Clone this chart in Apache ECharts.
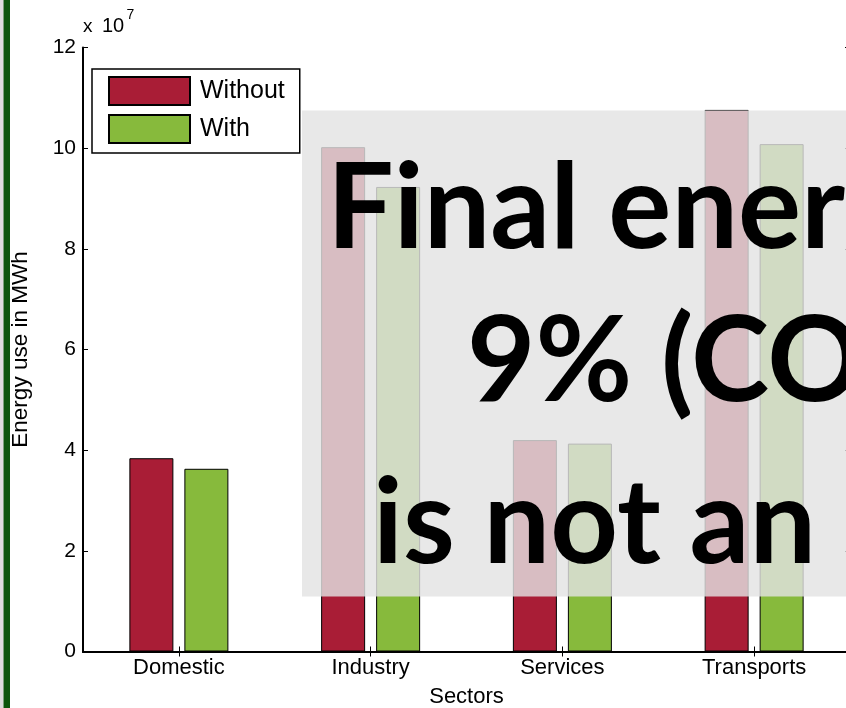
<!DOCTYPE html>
<html>
<head>
<meta charset="utf-8">
<script src="https://cdn.jsdelivr.net/npm/echarts@6/dist/echarts.min.js"></script>
<style>
  html, body { margin: 0; padding: 0; background: #ffffff; }
  #chart { width: 846px; height: 708px; }
</style>
</head>
<body>
<div id="chart"></div>
<script>
// Final energy use per sector, in MWh
const sectors = ['Domestic', 'Industry', 'Services', 'Transports'];
const energyWithout = [38400000, 100200000, 42000000, 107600000];
const energyWith = [36300000, 92300000, 41300000, 100800000];
const seriesNames = ['Without', 'With'];
// y ticks, in units of 10^7 MWh
const yTicks = [0, 2, 4, 6, 8, 10, 12];
const noteLines = ['Final ener', '9% (CO', 'is not an'];

const SCALE = 1e7;
const sans = '"Liberation Sans", Arial, Helvetica, sans-serif';
const axisColor = '#000000';

const chart = echarts.init(document.getElementById('chart'), null, { renderer: 'canvas' });

const inTick = { show: true, inside: true, length: 5, alignWithLabel: true, lineStyle: { color: axisColor, width: 1 } };
const axLine = { show: true, lineStyle: { color: axisColor, width: 2 } };

const yMin = yTicks[0] * SCALE;
const yMax = yTicks[yTicks.length - 1] * SCALE;
const yStep = (yTicks[1] - yTicks[0]) * SCALE;

// Note panel lettering: size the font so the last line spans about 432px,
// then place each line by its glyph left edge and its baseline.
const measureCtx = document.createElement('canvas').getContext('2d');
function noteFontAt(size) { return 'bold ' + size + 'px Lato'; }
measureCtx.font = noteFontAt(100);
const refMetrics = measureCtx.measureText(noteLines[2]);
const noteSize = 100 * 432 / (refMetrics.actualBoundingBoxLeft + refMetrics.actualBoundingBoxRight);
const noteFont = noteFontAt(noteSize.toFixed(2));
function notePos(text, left, baseline) {
  measureCtx.font = noteFont;
  measureCtx.textAlign = 'left';
  measureCtx.textBaseline = 'middle';
  const m = measureCtx.measureText(text);
  const xm = measureCtx.measureText('x');
  return { x: left + m.actualBoundingBoxLeft, y: baseline - xm.actualBoundingBoxDescent };
}
const notePlaces = [notePos(noteLines[0], 336, 248), notePos(noteLines[1], 471, 401), notePos(noteLines[2], 378, 563)];

chart.setOption({
  animation: false,
  backgroundColor: '#ffffff',
  grid: { left: 83, top: 47.5, width: 767, height: 604, containLabel: false, outerBoundsMode: 'none' },
  legend: {
    orient: 'vertical',
    left: 92,
    top: 69,
    padding: [7, 15, 9, 16],
    itemGap: 8,
    itemWidth: 81,
    itemHeight: 28,
    icon: 'rect',
    backgroundColor: '#ffffff',
    borderColor: '#000000',
    borderWidth: 1.5,
    borderRadius: 0,
    textStyle: { fontFamily: sans, fontSize: 25, lineHeight: 28, color: '#000', padding: [0, 0, 0, 5] },
    data: seriesNames
  },
  xAxis: [
    {
      type: 'category',
      position: 'bottom',
      data: sectors,
      axisLine: axLine,
      axisTick: inTick,
      axisLabel: { color: '#000', fontFamily: sans, fontSize: 22, margin: 5 },
      name: 'Sectors',
      nameLocation: 'middle',
      nameGap: 34,
      nameTextStyle: { color: '#000', fontFamily: sans, fontSize: 22 },
      splitLine: { show: false }
    },
    {
      type: 'category',
      position: 'top',
      data: sectors,
      axisLine: axLine,
      axisTick: inTick,
      axisLabel: { show: false },
      splitLine: { show: false }
    }
  ],
  yAxis: [
    {
      type: 'value',
      position: 'left',
      min: yMin, max: yMax, interval: yStep,
      axisLine: axLine,
      axisTick: { show: true, inside: true, length: 5, lineStyle: { color: axisColor, width: 1 } },
      axisLabel: { color: '#000', fontFamily: sans, fontSize: 21, margin: 7, formatter: v => String(v / SCALE) },
      splitLine: { show: false },
      name: 'Energy use in MWh',
      nameLocation: 'middle',
      nameGap: 62,
      nameTextStyle: { color: '#000', fontFamily: sans, fontSize: 22.5, verticalAlign: 'middle' }
    },
    {
      type: 'value',
      position: 'right',
      min: yMin, max: yMax, interval: yStep,
      axisLine: axLine,
      axisTick: { show: true, inside: true, length: 5, lineStyle: { color: axisColor, width: 1 } },
      axisLabel: { show: false },
      splitLine: { show: false }
    }
  ],
  series: [
    {
      name: seriesNames[0],
      type: 'bar',
      xAxisIndex: 0, yAxisIndex: 0,
      data: energyWithout,
      barWidth: 44,
      barGap: '25%',
      itemStyle: { color: '#a91d36', borderColor: '#000', borderWidth: 1 }
    },
    {
      name: seriesNames[1],
      type: 'bar',
      xAxisIndex: 0, yAxisIndex: 0,
      data: energyWith,
      barWidth: 44,
      barGap: '25%',
      itemStyle: { color: '#87ba3c', borderColor: '#000', borderWidth: 1 }
    }
  ],
  graphic: [
    // page border stripe on the left
    { type: 'rect', shape: { x: 0, y: 0, width: 3.5, height: 708 }, style: { fill: '#dcdcdc' }, z: 50 },
    { type: 'rect', shape: { x: 3.5, y: 0, width: 6.5, height: 708 }, style: { fill: '#0b550b' }, z: 50 },
    // exponent of the y scale
    { type: 'text', x: 83, y: 27, z: 50, style: { text: 'x', font: '19px ' + sans, fill: '#000', textAlign: 'left', textVerticalAlign: 'middle' } },
    { type: 'text', x: 102, y: 26, z: 50, style: { text: '10', font: '20px ' + sans, fill: '#000', textAlign: 'left', textVerticalAlign: 'middle' } },
    { type: 'text', x: 126.5, y: 15, z: 50, style: { text: '7', font: '14px ' + sans, fill: '#000', textAlign: 'left', textVerticalAlign: 'middle' } },
    // translucent note panel with its text
    { type: 'rect', shape: { x: 302, y: 110.5, width: 560, height: 486 }, style: { fill: 'rgba(227,227,227,0.81)' }, z: 100 },
    { type: 'text', x: notePlaces[0].x, y: notePlaces[0].y, z: 101, style: { text: noteLines[0], font: noteFont, fill: '#000', textAlign: 'left', textVerticalAlign: 'middle' } },
    { type: 'text', x: notePlaces[1].x, y: notePlaces[1].y, z: 101, style: { text: noteLines[1], font: noteFont, fill: '#000', textAlign: 'left', textVerticalAlign: 'middle' } },
    { type: 'text', x: notePlaces[2].x, y: notePlaces[2].y, z: 101, style: { text: noteLines[2], font: noteFont, fill: '#000', textAlign: 'left', textVerticalAlign: 'middle' } }
  ]
});
</script>
</body>
</html>
